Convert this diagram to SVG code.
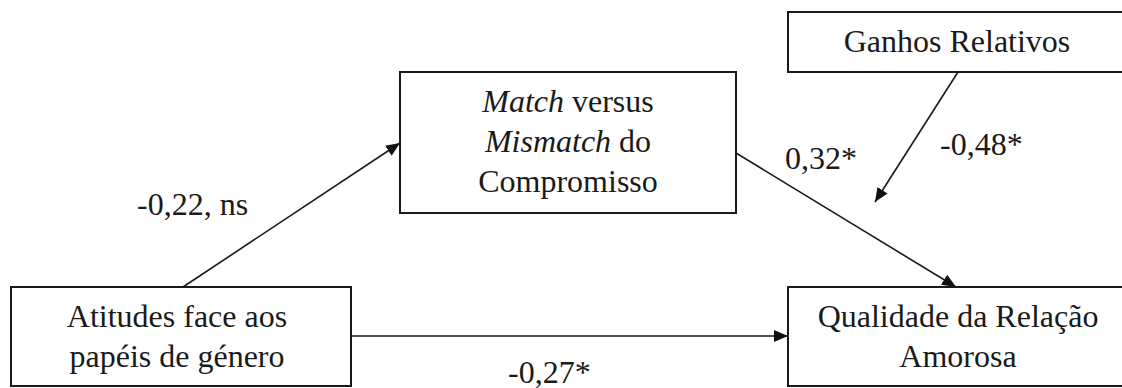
<svg xmlns="http://www.w3.org/2000/svg" width="1122" height="388" viewBox="0 0 1122 388">
  <style>
    .box { fill: #ffffff; stroke: #1a1a1a; stroke-width: 2; }
    .lbl { font-family: "Liberation Serif", "Times New Roman", Times, Tinos, "Noto Serif", "DejaVu Serif", FreeSerif, Georgia, serif; font-size: 32px; fill: #1a1a1a; }
    .mid { text-anchor: middle; }
    .it { font-style: italic; }
    .edge { stroke: #1a1a1a; stroke-width: 1.6; fill: none; marker-end: url(#arrow); }
  </style>
  <defs>
    <marker id="arrow" viewBox="0 0 14 12" refX="14" refY="6" markerWidth="14" markerHeight="12" markerUnits="userSpaceOnUse" orient="auto">
      <path d="M0,0 L14,6 L0,12 Z" fill="#111111"/>
    </marker>
  </defs>

  <!-- connectors and their coefficients -->
  <g id="connectors">
    <line class="edge" x1="183" y1="287" x2="400" y2="143"/>
    <line class="edge" x1="736" y1="153" x2="956" y2="287"/>
    <line class="edge" x1="958" y1="72" x2="875" y2="202"/>
    <line class="edge" x1="351" y1="336" x2="788" y2="336"/>
    <text class="lbl" x="137" y="215">-0,22, ns</text>
    <text class="lbl" x="785" y="169">0,32*</text>
    <text class="lbl" x="940" y="155">-0,48*</text>
    <text class="lbl" x="508" y="383">-0,27*</text>
  </g>

  <!-- nodes -->
  <g id="ganhos">
    <rect class="box" x="788" y="12" width="340" height="60"/>
    <text class="lbl mid" x="957" y="52">Ganhos Relativos</text>
  </g>

  <g id="match">
    <rect class="box" x="400" y="72" width="336" height="141"/>
    <text class="lbl mid" x="568" y="112"><tspan class="it">Match</tspan> versus</text>
    <text class="lbl mid" x="568" y="152"><tspan class="it">Mismatch</tspan> do</text>
    <text class="lbl mid" x="568" y="192">Compromisso</text>
  </g>

  <g id="atitudes">
    <rect class="box" x="11" y="287" width="340" height="99"/>
    <text class="lbl mid" x="177" y="327">Atitudes face aos</text>
    <text class="lbl mid" x="177" y="367">papéis de género</text>
  </g>

  <g id="qualidade">
    <rect class="box" x="788" y="287" width="340" height="99"/>
    <text class="lbl mid" x="958" y="327">Qualidade da Relação</text>
    <text class="lbl mid" x="958" y="367">Amorosa</text>
  </g>
</svg>
